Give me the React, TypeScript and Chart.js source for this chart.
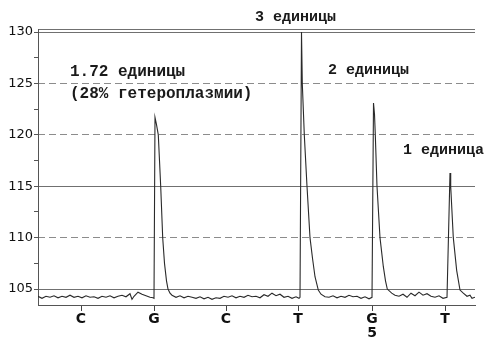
import { useEffect, useRef } from "react";
import { Chart, registerables } from "chart.js";

Chart.register(...registerables);

// Base calls along the scan axis
const baseLabels = ["C", "G", "C", "T", "G", "T"];
const baseSubLabels = ["", "", "", "", "5", ""];
const basePositions = [43, 116, 188, 260, 334, 407];

// Y axis
const yMin = 103.45;
const yMax = 130.3;
const yTickValues = [105, 107.5, 110, 112.5, 115, 117.5, 120, 122.5, 125, 127.5, 130];
const solidGridValues = [105, 115, 130];
const dashedGridValues = [110, 120, 125];

// Scan trace (scan position, signal)
const traceScan = [
  0, 4, 8, 12, 16, 20, 24, 28, 32, 36, 40, 44, 48, 52, 56, 60, 64, 68, 72, 76, 80, 84, 88, 92, 94, 96, 100, 104, 108, 112, 115, 116,
  117, 118.5, 120.3, 121.5, 122.7, 124.7, 126.5, 128.5, 130, 132, 134,
  138, 142, 146, 150, 154, 158, 162, 166, 170, 174, 178, 182, 186, 190, 194, 198, 202, 206, 210, 214, 218, 222, 226, 230, 234, 238, 242, 246, 250, 254, 258, 261, 262,
  263.5, 264.3, 266.3, 269, 272, 274.5, 277, 280.3, 283, 287,
  291, 295, 299, 303, 307, 311, 315, 319, 323, 327, 331, 334,
  335.5, 336.5, 337.3, 339, 342, 345.3, 347.5, 349.3, 353.7, 357,
  361, 365, 369, 373, 377, 381, 385, 389, 393, 397, 401, 405, 409,
  412, 412.7, 415.3, 418.7, 422, 425.3, 429, 432, 434, 437,
];
const traceSignal = [
  104.3, 104.1, 104.3, 104.2, 104.35, 104.15, 104.3, 104.2, 104.4, 104.2, 104.3, 104.15, 104.35, 104.2, 104.25, 104.1, 104.3, 104.2, 104.35, 104.15, 104.3, 104.4, 104.25, 104.55, 104.0, 104.3, 104.7, 104.5, 104.35, 104.2, 104.15, 104.1,
  121.7, 121, 120, 117.5, 115, 110, 107.5, 105.8, 105, 104.6, 104.4,
  104.2, 104.35, 104.15, 104.3, 104.2, 104.1, 104.25, 104.05, 104.2, 104.0, 104.15, 104.1, 104.3, 104.2, 104.35, 104.15, 104.3, 104.2, 104.4, 104.25, 104.3, 104.15, 104.45, 104.3, 104.6, 104.35, 104.5, 104.2, 104.3, 104.1, 104.25, 104.1, 104.2,
  130, 125, 120, 115, 110, 108, 106.2, 104.9, 104.5, 104.25,
  104.2, 104.35, 104.15, 104.3, 104.2, 104.4, 104.25, 104.3, 104.1, 104.25, 104.05, 104.2,
  123.1, 122, 120, 115, 110, 107.2, 105.8, 105, 104.6, 104.4,
  104.3, 104.5, 104.2, 104.6, 104.35, 104.7, 104.4, 104.55, 104.3, 104.2, 104.35, 104.1, 104.2,
  116.3, 115, 110, 106.8, 104.9, 104.6, 104.3, 104.4, 104.1, 104.2,
];

// Peak annotations (anchored in data units: scan, signal)
const peakLabels = ["1.72 единицы", "(28% гетероплазмии)", "3 единицы", "2 единицы", "1 единица"];
const peakLabelScan = [32, 32, 217, 290, 365];
const peakLabelSignal = [126.1, 124.0, 131.45, 126.3, 118.5];

// Annotation text styles
const peakLabelFontPx = [16, 16, 15, 15, 15];

const peakLabelPlugin = {
  id: "peakLabels",
  afterDatasetsDraw(chart: any) {
    const { ctx, scales } = chart;
    const x = scales.x;
    const y = scales.y;
    ctx.save();
    ctx.fillStyle = "#1a1a1a";
    ctx.textBaseline = "middle";
    ctx.textAlign = "left";
    peakLabels.forEach((t, i) => {
      ctx.font = `bold ${peakLabelFontPx[i]}px "Liberation Mono"`;
      ctx.fillText(t, x.getPixelForValue(peakLabelScan[i]), y.getPixelForValue(peakLabelSignal[i]));
    });
    ctx.restore();
  },
};

export default function App() {
  const ref = useRef<HTMLCanvasElement | null>(null);

  useEffect(() => {
    document.body.style.margin = "0";
    const canvas = ref.current;
    if (!canvas) return;
    const data = traceScan.map((s, i) => ({ x: s, y: traceSignal[i] }));
    const chart = new Chart(canvas, {
      type: "line",
      data: {
        datasets: [
          {
            data,
            borderColor: "#2a2a2a",
            borderWidth: 1.1,
            pointRadius: 0,
            tension: 0,
            fill: false,
          },
        ],
      },
      options: {
        responsive: false,
        animation: false,
        layout: { padding: { left: 0, right: 9, top: 29, bottom: 0 } },
        plugins: { legend: { display: false }, tooltip: { enabled: false } },
        scales: {
          x: {
            type: "linear",
            min: 0,
            max: 437,
            afterBuildTicks: (s: any) => {
              s.ticks = basePositions.map((v) => ({ value: v }));
            },
            afterFit: (s: any) => {
              s.height = 35;
            },
            ticks: {
              autoSkip: false,
              maxRotation: 0,
              padding: 2,
              color: "#111",
              font: { family: '"DejaVu Sans"', size: 14, weight: "bold", lineHeight: 0.95 },
              callback: (v: any) => {
                const i = basePositions.indexOf(Number(v));
                if (i < 0) return "";
                return baseSubLabels[i] ? [baseLabels[i], baseSubLabels[i]] : baseLabels[i];
              },
            },
            grid: { drawOnChartArea: false, tickLength: 6, tickColor: "#444" },
            border: { color: "#555", width: 1 },
          },
          y: {
            type: "linear",
            position: "left",
            min: yMin,
            max: yMax,
            afterBuildTicks: (s: any) => {
              s.ticks = [...yTickValues, yMax].map((v) => ({ value: v }));
            },
            afterFit: (s: any) => {
              s.width = 38;
            },
            ticks: {
              autoSkip: false,
              padding: 1,
              color: "#111",
              font: { family: '"DejaVu Sans"', size: 13 },
              callback: (v: any) => (Number(v) % 5 === 0 ? String(v) : ""),
            },
            grid: {
              tickLength: 4,
              lineWidth: 1,
              color: (c: any) =>
                c.tick && (solidGridValues.includes(c.tick.value) || c.tick.value === yMax)
                  ? "#707070"
                  : "rgba(0,0,0,0)",
              tickColor: (c: any) => (c.tick && c.tick.value === yMax ? "rgba(0,0,0,0)" : "#555"),
            },
            border: { color: "#555", width: 1 },
          },
          y2: {
            type: "linear",
            position: "right",
            min: yMin,
            max: yMax,
            afterBuildTicks: (s: any) => {
              s.ticks = dashedGridValues.map((v) => ({ value: v }));
            },
            afterFit: (s: any) => {
              s.width = 0;
            },
            ticks: { display: false },
            grid: { color: "#8c8c8c", lineWidth: 1, drawTicks: false },
            border: { display: false, dash: [7, 4] },
          },
        },
      } as any,
      plugins: [peakLabelPlugin],
    });
    return () => chart.destroy();
  }, []);

  return (
    <div style={{ position: "fixed", left: 0, top: 0, width: 484, height: 340, background: "#fff" }}>
      <canvas ref={ref} width={484} height={340} style={{ width: 484, height: 340 }} />
    </div>
  );
}
